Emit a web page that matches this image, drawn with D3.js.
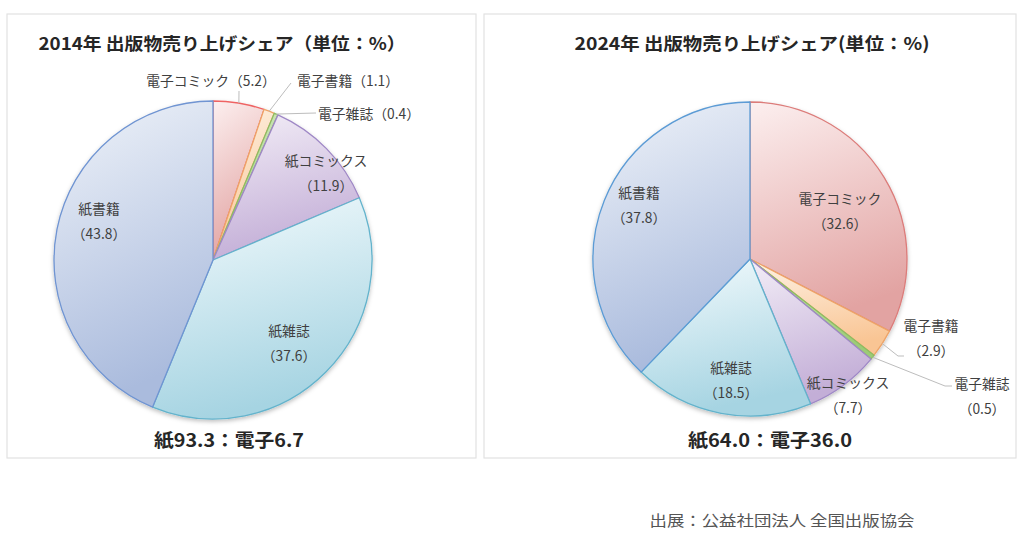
<!DOCTYPE html>
<meta charset="utf-8">
<style>
body {
  margin: 0;
  background: #fff;
  font-family: "Noto Sans CJK JP", "Noto Sans", sans-serif;
}
.panel {
  fill: #fff;
  stroke: #e2e2e2;
  stroke-width: 1.2;
}
.title, .total {
  font-weight: bold;
  fill: #262626;
}
.label {
  font-size: 13.8px;
  fill: #404040;
}
.leader {
  fill: none;
  stroke: #bdbdbd;
  stroke-width: 1;
}
</style>
<body>
<script src="https://cdn.jsdelivr.net/npm/d3@7"></script>
<script>

// values (percent)
var categories = ["電子コミック", "電子書籍", "電子雑誌", "紙コミックス", "紙雑誌", "紙書籍"];
var share2014 = [5.2, 1.1, 0.4, 11.9, 37.6, 43.8];
var share2024 = [32.6, 2.9, 0.5, 7.7, 18.5, 37.8];
var titles = ["2014年 出版物売り上げシェア（単位：%）", "2024年 出版物売り上げシェア(単位：%)"];
var totals = ["紙93.3：電子6.7", "紙64.0：電子36.0"];
var source = "出展：公益社団法人 全国出版協会";

// gradient top / bottom and outline per category
var fillTop = ["#fcefef", "#fef3e6", "#d6eac4", "#f3eef7", "#f4fbfd", "#eff3f9"];
var fillBottom = ["#e2a3a2", "#f9c594", "#9ccb77", "#c3aed7", "#a6d4e2", "#aabbdd"];
var strokes = ["#dc7c7a", "#eea468", "#8dbd62", "#9f88c6", "#63b3cc", "#6f94d2"];

var width = 1024,
    height = 540;

var svg = d3.select("body").append("svg")
    .attr("width", width)
    .attr("height", height);

var defs = svg.append("defs");

var shadow = defs.append("filter")
    .attr("id", "shadow")
    .attr("x", "-10%").attr("y", "-10%")
    .attr("width", "120%").attr("height", "125%");
shadow.append("feDropShadow")
    .attr("dx", 0).attr("dy", 2)
    .attr("stdDeviation", 2)
    .attr("flood-color", "#000")
    .attr("flood-opacity", 0.25);

categories.forEach(function(c, i) {
  var g = defs.append("linearGradient")
      .attr("id", "grad" + i)
      .attr("x1", 0).attr("y1", 0)
      .attr("x2", 0.25).attr("y2", 1);
  g.append("stop").attr("offset", "0%").attr("stop-color", fillTop[i]);
  g.append("stop").attr("offset", "100%").attr("stop-color", fillBottom[i]);
});

var charts = [
  {
    values: share2014, panel: [7, 14, 469, 444], cx: 213, cy: 260, r: 159,
    title: [222, 42, 367], total: [229, 439, 150],
    strokeFix: { 0: "#ef6464" },
    labels: [
      { i: 0, lines: ["電子コミック（5.2）"], x: 211, y: 80, leader: [[239, 91]] },
      { i: 1, lines: ["電子書籍（1.1）"], x: 348, y: 80, leader: [[291, 83]] },
      { i: 2, lines: ["電子雑誌（0.4）"], x: 369, y: 113, leader: [[316, 113]] },
      { i: 3, lines: ["紙コミックス", "（11.9）"], x: 326, y: 160 },
      { i: 4, lines: ["紙雑誌", "（37.6）"], x: 289, y: 330 },
      { i: 5, lines: ["紙書籍", "（43.8）"], x: 99, y: 208 }
    ]
  },
  {
    values: share2024, panel: [484, 14, 532, 444], cx: 750, cy: 259, r: 157,
    title: [752, 42, 355], total: [770, 439, 164],
    strokeFix: { 5: "#5b9bd5" },
    labels: [
      { i: 0, lines: ["電子コミック", "（32.6）"], x: 840, y: 198 },
      { i: 1, lines: ["電子書籍", "（2.9）"], x: 931, y: 325, leader: [[898, 356], [904, 356]] },
      { i: 2, lines: ["電子雑誌", "（0.5）"], x: 982, y: 383, leader: [[945, 386], [952, 386]] },
      { i: 3, lines: ["紙コミックス", "（7.7）"], x: 848, y: 382 },
      { i: 4, lines: ["紙雑誌", "（18.5）"], x: 731, y: 367 },
      { i: 5, lines: ["紙書籍", "（37.8）"], x: 639, y: 192 }
    ]
  }
];

var pie = d3.pie().sort(null).value(function(d) { return d; });

charts.forEach(function(ch, k) {
  var g = svg.append("g");

  g.append("rect")
      .attr("class", "panel")
      .attr("x", ch.panel[0]).attr("y", ch.panel[1])
      .attr("width", ch.panel[2]).attr("height", ch.panel[3]);

  g.append("text")
      .attr("class", "title")
      .attr("x", ch.title[0]).attr("y", ch.title[1])
      .attr("text-anchor", "middle")
      .attr("dominant-baseline", "central")
      .attr("font-size", 17.5)
      .attr("textLength", ch.title[2])
      .attr("lengthAdjust", "spacingAndGlyphs")
      .text(titles[k]);

  var arc = d3.arc().innerRadius(0).outerRadius(ch.r);
  var arcs = pie(ch.values);

  g.append("g")
      .attr("transform", "translate(" + ch.cx + "," + ch.cy + ")")
      .attr("filter", "url(#shadow)")
    .selectAll("path")
    .data(arcs)
    .enter().append("path")
      .attr("d", arc)
      .attr("fill", function(d, i) { return "url(#grad" + i + ")"; })
      .attr("stroke", function(d, i) { return ch.strokeFix[i] || strokes[i]; })
      .attr("stroke-width", 1.3)
      .attr("stroke-linejoin", "round");

  ch.labels.forEach(function(l) {
    if (l.leader) {
      var a = (arcs[l.i].startAngle + arcs[l.i].endAngle) / 2;
      var start = [ch.cx + ch.r * Math.sin(a), ch.cy - ch.r * Math.cos(a)];
      g.append("path")
          .attr("class", "leader")
          .attr("d", d3.line()([start].concat(l.leader)));
    }
    var t = g.append("text")
        .attr("class", "label")
        .attr("text-anchor", "middle");
    l.lines.forEach(function(s, j) {
      t.append("tspan")
          .attr("x", l.x)
          .attr("y", l.y + j * 25)
          .attr("dominant-baseline", "central")
          .text(s);
    });
  });

  g.append("text")
      .attr("class", "total")
      .attr("x", ch.total[0]).attr("y", ch.total[1])
      .attr("text-anchor", "middle")
      .attr("dominant-baseline", "central")
      .attr("font-size", 18)
      .attr("textLength", ch.total[2])
      .attr("lengthAdjust", "spacingAndGlyphs")
      .text(totals[k]);
});

svg.append("text")
    .attr("x", 782).attr("y", 519)
    .attr("text-anchor", "middle")
    .attr("dominant-baseline", "central")
    .attr("font-size", 15)
    .attr("fill", "#555")
    .attr("textLength", 265)
    .attr("lengthAdjust", "spacingAndGlyphs")
    .text(source);

</script>
